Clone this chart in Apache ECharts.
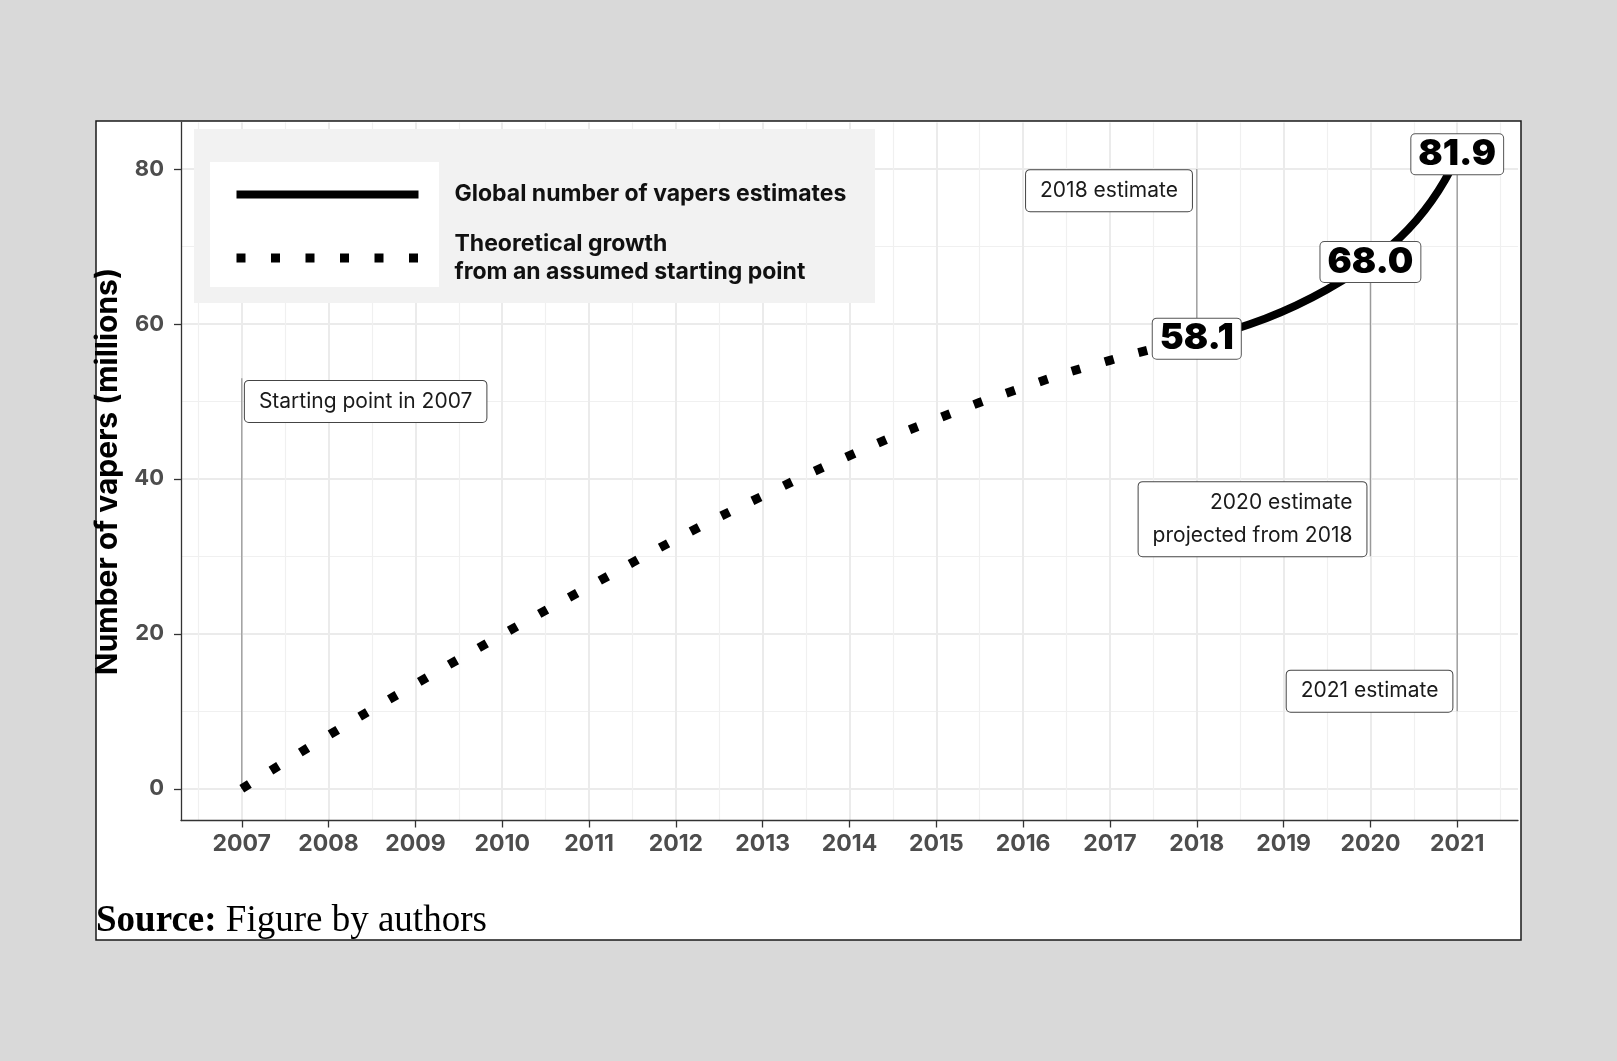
<!DOCTYPE html>
<html>
<head>
<meta charset="utf-8">
<title>Global number of vapers</title>
<script src="https://cdn.jsdelivr.net/npm/echarts@6/dist/echarts.min.js"></script>
<style>
  html, body { margin: 0; padding: 0; background: #d9d9d9; }
  #chart { width: 1617px; height: 1061px; }
</style>
</head>
<body>
<div id="chart"></div>
<script>
// axis breaks
const yearTicks = [2007, 2008, 2009, 2010, 2011, 2012, 2013, 2014, 2015, 2016, 2017, 2018, 2019, 2020, 2021];
const halfYearTicks = [2006.5, 2007.5, 2008.5, 2009.5, 2010.5, 2011.5, 2012.5, 2013.5, 2014.5, 2015.5, 2016.5, 2017.5, 2018.5, 2019.5, 2020.5, 2021.5];
const valueTicks = [0, 20, 40, 60, 80];
const minorValueTicks = [10, 30, 50, 70];

// theoretical growth from an assumed starting point
const theoryYears = [2007, 2008, 2009, 2010, 2011, 2012, 2013, 2014, 2015, 2016, 2017, 2018];
const theoryValues = [0, 6.9, 13.5, 19.9, 26.1, 32.2, 37.8, 43.0, 47.7, 51.8, 55.3, 58.1];

// global number of vapers estimates, millions
const estimateYears = [2018, 2020, 2021];
const estimateValues = [58.1, 68.0, 81.9];

// annotation boxes and the leader lines that point at them
const noteTexts = ['Starting point in 2007', '2018 estimate', '2020 estimate\nprojected from 2018', '2021 estimate'];
const noteYears = [2007.03, 2017.95, 2019.96, 2020.95];
const noteValues = [50, 77.2, 34.8, 12.6];
const noteSides = ['right', 'left', 'left', 'left'];
const leaderYears = [2007, 2018, 2020, 2021];
const leaderFrom = [0, 58.1, 68.0, 81.9];
const leaderTo = [53, 80, 30, 10];

const LINE_NAME = 'Global number of vapers estimates';
const DOT_NAME = 'Theoretical growth\nfrom an assumed starting point';
const SANS = 'Inter, "Open Sans", sans-serif';

const chart = echarts.init(document.getElementById('chart'));

const leaderSeries = leaderYears.map((yr, i) => ({
  type: 'line',
  z: 2,
  silent: true,
  symbol: 'none',
  lineStyle: { color: '#9a9a9a', width: 1.3 },
  data: [[yr, leaderFrom[i]], [yr, leaderTo[i]]]
}));

const option = {
  animation: false,
  backgroundColor: '#d9d9d9',
  textStyle: { fontFamily: SANS },
  graphic: [
    {
      type: 'rect', z: -10, silent: true,
      shape: { x: 96, y: 121, width: 1425, height: 819 },
      style: { fill: '#ffffff', stroke: '#1a1a1a', lineWidth: 1.5 }
    },
    {
      type: 'rect', z: 8, silent: true,
      shape: { x: 194, y: 129, width: 681, height: 174 },
      style: { fill: '#f2f2f2' }
    },
    {
      type: 'rect', z: 9, silent: true,
      shape: { x: 210, y: 162, width: 229, height: 125 },
      style: { fill: '#ffffff' }
    },
    {
      type: 'text', z: 10, left: 96, top: 903, silent: true,
      style: {
        text: '{b|Source:} Figure by authors',
        fontFamily: '"Liberation Serif", "Times New Roman", serif',
        fontSize: 37,
        fill: '#000',
        rich: { b: { fontWeight: 'bold', fontSize: 37, fontFamily: '"Liberation Serif", serif' } }
      }
    }
  ],
  legend: {
    z: 10,
    orient: 'vertical',
    left: 232,
    top: 180.5,
    padding: 0,
    itemGap: 21.5,
    itemWidth: 182,
    itemHeight: 8,
    selectedMode: false,
    itemStyle: { opacity: 0, color: 'rgba(0,0,0,0)', borderColor: 'rgba(0,0,0,0)', borderWidth: 0 },
    textStyle: {
      fontFamily: SANS, fontSize: 23, fontWeight: 'bold', color: '#111',
      lineHeight: 28, padding: [0, 0, 0, 31]
    },
    data: [
      { name: LINE_NAME, lineStyle: { width: 8 } },
      { name: DOT_NAME, lineStyle: { width: 9 } }
    ]
  },
  grid: { left: 181, right: 99, top: 122.5, bottom: 240.5, containLabel: false },
  xAxis: [
    {
      type: 'value', min: 2006.3, max: 2021.7,
      axisLine: { show: true, onZero: false, lineStyle: { color: '#333', width: 1.3 } },
      axisTick: { show: true, length: 7, customValues: yearTicks, lineStyle: { color: '#333', width: 1.3 } },
      axisLabel: {
        customValues: yearTicks, margin: 12, color: '#4d4d4d',
        formatter: v => String(v),
        fontSize: 23, fontWeight: 'bold', fontFamily: SANS
      },
      splitLine: { show: true, lineStyle: { color: '#ebebeb', width: 2 } }
    },
    {
      type: 'value', min: 2006.3, max: 2021.7, position: 'bottom',
      axisLine: { show: false },
      axisTick: { show: false, customValues: halfYearTicks },
      axisLabel: { show: false, customValues: halfYearTicks },
      splitLine: { show: true, lineStyle: { color: '#f0f0f0', width: 1.2 } }
    }
  ],
  yAxis: [
    {
      type: 'value', min: -4.095, max: 85.995,
      name: 'Number of vapers (millions)',
      nameLocation: 'middle', nameGap: 54, nameRotate: 90,
      nameTextStyle: { fontFamily: SANS, fontSize: 30, fontWeight: 'bold', color: '#000' },
      axisLine: { show: true, onZero: false, lineStyle: { color: '#333', width: 1.3 } },
      axisTick: { show: true, length: 7, customValues: valueTicks, lineStyle: { color: '#333', width: 1.3 } },
      axisLabel: {
        customValues: valueTicks, margin: 17, color: '#4d4d4d',
        fontSize: 22, fontWeight: 'bold', fontFamily: SANS
      },
      splitLine: { show: true, lineStyle: { color: '#ebebeb', width: 2 } }
    },
    {
      type: 'value', min: -4.095, max: 85.995,
      axisLine: { show: false },
      axisTick: { show: false, customValues: minorValueTicks },
      axisLabel: { show: false, customValues: minorValueTicks },
      splitLine: { show: true, lineStyle: { color: '#f0f0f0', width: 1.2 } }
    }
  ],
  series: [
    ...leaderSeries,
    {
      name: DOT_NAME,
      type: 'line',
      z: 3,
      smooth: true,
      symbol: 'none',
      lineStyle: { color: '#000', width: 9, type: [9, 25.5], cap: 'butt' },
      data: theoryYears.map((yr, i) => [yr, theoryValues[i]])
    },
    {
      name: LINE_NAME,
      type: 'line',
      z: 3,
      smooth: 0.6,
      symbol: 'none',
      lineStyle: { color: '#000', width: 8, join: 'round' },
      data: estimateYears.map((yr, i) => [yr, estimateValues[i]])
    },
    {
      type: 'scatter',
      z: 6,
      silent: true,
      symbolSize: 1,
      itemStyle: { color: 'rgba(0,0,0,0)', opacity: 1 },
      label: {
        show: true, distance: 0, opacity: 1,
        formatter: p => p.name,
        fontFamily: SANS, fontSize: 21, color: '#1a1a1a', lineHeight: 33,
        backgroundColor: '#fff', borderColor: '#444', borderWidth: 1, borderRadius: 4,
        padding: [4, 14]
      },
      data: noteTexts.map((t, i) => ({
        name: t,
        value: [noteYears[i], noteValues[i]],
        label: { position: noteSides[i] }
      }))
    },
    {
      type: 'scatter',
      z: 7,
      silent: true,
      symbolSize: 1,
      itemStyle: { color: 'rgba(0,0,0,0)', opacity: 1 },
      label: {
        show: true, position: 'inside', opacity: 1,
        formatter: p => p.value[1].toFixed(1),
        fontFamily: SANS, fontSize: 36, fontWeight: 900, color: '#000',
        lineHeight: 38,
        backgroundColor: '#fff', borderColor: '#555', borderWidth: 1, borderRadius: 4,
        padding: [1, 7]
      },
      data: estimateYears.map((yr, i) => [yr, estimateValues[i]])
    }
  ]
};

chart.setOption(option);
window.addEventListener('resize', () => chart.resize());
</script>
</body>
</html>
